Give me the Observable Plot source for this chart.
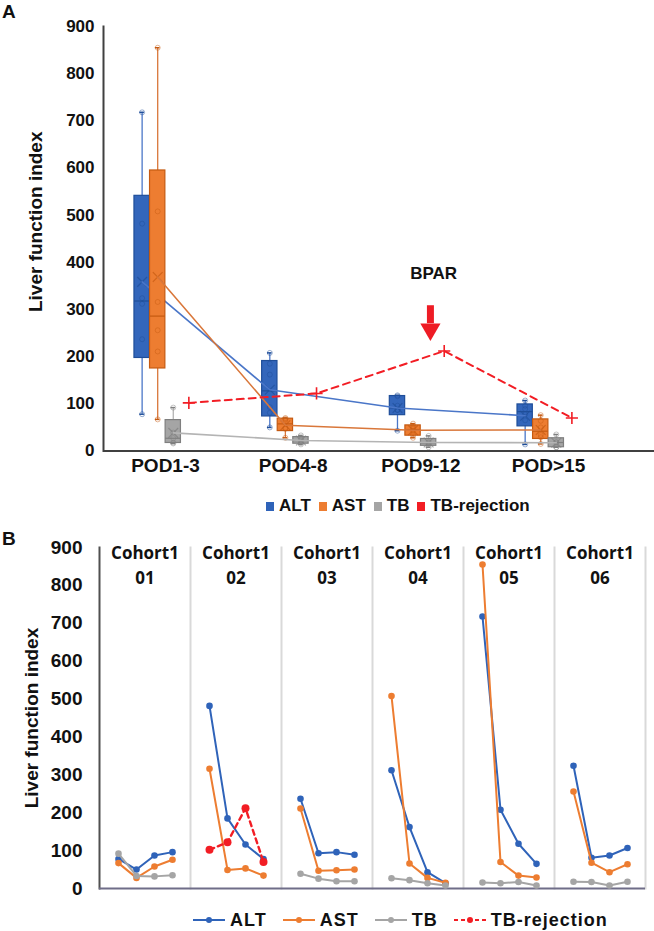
<!DOCTYPE html>
<html lang="en">
<head>
<meta charset="utf-8">
<title>Liver function index after transplantation</title>

<script src="https://cdn.jsdelivr.net/npm/d3@7"></script>
<script src="https://cdn.jsdelivr.net/npm/@observablehq/plot@0.6"></script>

<style>
  body {
    margin: 0;
    width: 654px;
    background: #fff;
    font-family: "Liberation Sans", Arial, sans-serif;
    color: #111;
  }
  .panel { position: relative; }
  .panel > svg { display: block; }
  .tag {
    position: absolute;
    left: 2px;
    font-weight: bold;
    font-size: 19px;
  }
  .legend {
    display: flex;
    align-items: center;
    font-weight: bold;
    box-sizing: border-box;
  }
  #legendA { height: 48px; padding-left: 266px; font-size: 17px; }
  #legendA .key i {
    display: inline-block;
    width: 8px;
    height: 9px;
    margin-right: 5px;
  }
  #legendA .key { display: flex; align-items: center; margin-right: 8px; }
  #legendB { height: 29px; padding: 7px 0 0 193px; font-size: 18px; letter-spacing: 1px; }
  #legendB .key { display: flex; align-items: center; margin-right: 16px; }
  #legendB .key svg { margin-right: 5px; }
</style>
</head>

<body>
  <div class="panel" id="panelA"><span class="tag" style="top:1px">A</span></div>
  <div class="legend" id="legendA"></div>
  <div class="panel" id="panelB"><span class="tag" style="top:-2px">B</span></div>
  <div class="legend" id="legendB"></div>

<script>

  // post-operative day groups (also the 4 time points of every cohort in panel B)
  const pods = ["POD1-3", "POD4-8", "POD9-12", "POD>15"];
  const cohorts = ["01", "02", "03", "04", "05", "06"];

  // one row per cohort, one value per POD
  const alt = [
    [78, 50, 87, 96],
    [482, 185, 116, 78],
    [237, 93, 96, 89],
    [312, 162, 43, 14],
    [718, 208, 118, 65],
    [324, 81, 87, 107]
  ];
  const ast = [
    [67, 28, 58, 76],
    [316, 49, 53, 34],
    [211, 47, 48, 50],
    [508, 66, 28, 15],
    [855, 70, 34, 29],
    [256, 68, 43, 64]
  ];
  // cohort 02 has its bilirubin under TB-rejection
  const tb = [
    [92, 33, 32, 35],
    null,
    [39, 26, 19, 19],
    [27, 22, 14, 8],
    [16, 14, 17, 8],
    [18, 17, 8, 18]
  ];
  const tbRejection = [102, 122, 212, 70];
  const rejectionCohort = "02";

  const series = ["ALT", "AST", "TB", "TB-rejection"];
  const valuesBy = {ALT: alt, AST: ast, TB: tb};

  const colors = {ALT: "#2f63b9", AST: "#ed7d31", TB: "#a5a5a5", "TB-rejection": "#f21d24"};
  const boxFill = {ALT: "#3366bb", AST: "#ed7d31", TB: "#a5a5a5"};
  const boxStroke = {ALT: "#1f4e99", AST: "#c55a11", TB: "#7f7f7f"};
  const lineA = {ALT: "#4a76c8", AST: "#d9773a", TB: "#b4b4b4"};

  // Excel style box statistics (exclusive quartiles)
  function quartileExc(sorted, p) {
    const pos = (sorted.length + 1) * p;
    const i = Math.floor(pos), f = pos - i;
    if (i < 1) return sorted[0];
    if (i >= sorted.length) return sorted[sorted.length - 1];
    return sorted[i - 1] + f * (sorted[i] - sorted[i - 1]);
  }

  const slot = si => (si - 1.5) * 0.122;   // side by side position inside a POD group
  const half = 0.06;

  const stats = [];
  const inner = [];
  ["ALT", "AST", "TB"].forEach((name, si) => {
    pods.forEach((pod, pi) => {
      const vals = valuesBy[name].filter(r => r).map(r => r[pi]).sort(d3.ascending);
      const q1 = quartileExc(vals, 0.25), q3 = quartileExc(vals, 0.75), iqr = q3 - q1;
      const lo = d3.min(vals.filter(v => v >= q1 - 1.5 * iqr));
      const hi = d3.max(vals.filter(v => v <= q3 + 1.5 * iqr));
      const xc = pi + slot(si);
      stats.push({name, pod, xc, q1, q3, lo, hi, median: d3.median(vals), mean: d3.mean(vals)});
      vals.forEach(v => inner.push({name, xc, value: v}));
    });
  });
  const rejA = tbRejection.map((v, pi) => ({xc: pi + slot(3), value: v}));

  // BPAR annotation, pointing at the rejection peak
  const bpar = {x: 2.075, top: 308, bottom: 270, tip: 258, textX: 2.1, textY: 376, label: "BPAR"};

  const marksA = [
    Plot.axisY({ticks: d3.range(0, 901, 100), tickSize: 0, tickPadding: 9, fontSize: 17, fontWeight: "bold", label: null}),
    Plot.text(["Liver function index"], {frameAnchor: "left", textAnchor: "middle", rotate: -90, dx: -68, dy: -17, fontSize: 19, fontWeight: "bold"}),
    Plot.axisX({ticks: d3.range(pods.length), tickFormat: i => pods[i], tickSize: 0, tickPadding: 7, fontSize: 19, fontWeight: "bold", label: null})
  ];
  ["ALT", "AST", "TB"].forEach(name => {
    const s = stats.filter(d => d.name === name);
    marksA.push(
      Plot.ruleX(s, {x: "xc", y1: "lo", y2: "hi", stroke: lineA[name], strokeWidth: 1.3}),
      Plot.ruleY(s, {y: "hi", x1: d => d.xc - 0.018, x2: d => d.xc + 0.018, stroke: boxStroke[name], strokeWidth: 1.5}),
      Plot.ruleY(s, {y: "lo", x1: d => d.xc - 0.018, x2: d => d.xc + 0.018, stroke: boxStroke[name], strokeWidth: 1.5}),
      Plot.rect(s, {x1: d => d.xc - half, x2: d => d.xc + half, y1: "q1", y2: "q3", fill: boxFill[name], stroke: boxStroke[name], strokeWidth: 1.2}),
      Plot.ruleY(s, {y: "median", x1: d => d.xc - half, x2: d => d.xc + half, stroke: boxStroke[name], strokeWidth: 1.2}),
      Plot.dot(inner.filter(d => d.name === name), {x: "xc", y: "value", r: 2.5, stroke: boxStroke[name], strokeOpacity: 0.45, strokeWidth: 1}),
      Plot.dot(s, {x: "xc", y: "mean", symbol: "times", r: 4.5, stroke: boxStroke[name], strokeOpacity: 0.7, strokeWidth: 1.2}),
      Plot.line(s, {x: "xc", y: "mean", stroke: lineA[name], strokeWidth: 1.6})
    );
  });
  marksA.push(
    Plot.line(rejA, {x: "xc", y: "value", stroke: colors["TB-rejection"], strokeWidth: 2, strokeDasharray: "7,5"}),
    Plot.dot(rejA, {x: "xc", y: "value", symbol: "plus", r: 4, stroke: colors["TB-rejection"], strokeWidth: 1.6}),
    Plot.ruleX([bpar], {x: "x", y1: "top", y2: "bottom", stroke: "#ee1c25", strokeWidth: 7}),
    Plot.dot([bpar], {x: "x", y: "tip", symbol: "triangle", rotate: 180, r: 7.5, fill: "#ee1c25"}),
    Plot.text([bpar], {x: "textX", y: "textY", text: "label", fontSize: 17, fontWeight: "bold"}),
    Plot.frame({anchor: "left", stroke: "#404040", strokeWidth: 2}),
    Plot.ruleY([0], {stroke: "#404040", strokeWidth: 2})
  );

  const plotA = Plot.plot({
    width: 654,
    height: 482,
    marginLeft: 103,
    marginRight: 0,
    marginTop: 26,
    marginBottom: 31.5,
    style: {fontFamily: "'Liberation Sans', Arial, sans-serif", color: "#111", background: "#fff"},
    x: {domain: [-0.4855, 3.83], axis: null},
    y: {domain: [0, 900], axis: null},
    marks: marksA
  });
  document.getElementById("panelA").appendChild(plotA);

  // panel B: one facet per cohort
  const rowsB = [];
  ["ALT", "AST", "TB"].forEach(name => {
    valuesBy[name].forEach((row, ci) => {
      if (row) row.forEach((v, pi) => rowsB.push({series: name, cohort: cohorts[ci], pod: pods[pi], value: v}));
    });
  });
  tbRejection.forEach((v, pi) => rowsB.push({series: "TB-rejection", cohort: rejectionCohort, pod: pods[pi], value: v}));

  const marksB = [
    Plot.frame({anchor: "right", stroke: "#d9d9d9", strokeWidth: 2}),
    Plot.axisY({ticks: d3.range(0, 901, 100), tickSize: 0, tickPadding: 17, fontSize: 19, fontWeight: "bold",
      label: "Liver function index", labelAnchor: "center", labelArrow: "none", labelOffset: 75}),
    Plot.frame({anchor: "left", facetAnchor: "left", stroke: "#505050", strokeWidth: 2}),
    Plot.ruleY([0], {stroke: "#6f6d88", strokeWidth: 2}),
    Plot.text(cohorts, {fx: d => d, text: d => "Cohort1\n" + d, frameAnchor: "top", lineAnchor: "top", dy: -6,
      lineHeight: 1.45, fontSize: 17, fontWeight: "bold", fontFamily: "'Open Sans', 'Noto Sans', sans-serif"})
  ];
  series.forEach(name => {
    const d = rowsB.filter(r => r.series === name);
    const dash = name === "TB-rejection";
    marksB.push(
      Plot.line(d, {fx: "cohort", x: "pod", y: "value", z: "cohort", stroke: colors[name], strokeWidth: dash ? 2.4 : 2, strokeDasharray: dash ? "5,4" : null}),
      Plot.dot(d, {fx: "cohort", x: "pod", y: "value", r: dash ? 4 : 3.3, fill: colors[name]})
    );
  });

  const plotB = Plot.plot({
    width: 654,
    height: 372,
    marginLeft: 99,
    marginRight: 9,
    marginTop: 17,
    marginBottom: 14,
    style: {fontFamily: "'Liberation Sans', Arial, sans-serif", color: "#111", background: "#fff"},
    fx: {domain: cohorts, padding: 0, axis: null, label: null},
    x: {domain: pods, type: "point", padding: 1, axis: null},
    y: {domain: [0, 900], axis: null},
    marks: marksB
  });
  document.getElementById("panelB").appendChild(plotB);

  // legends
  const legA = document.getElementById("legendA");
  series.forEach(name => {
    const k = document.createElement("span");
    k.className = "key";
    k.innerHTML = `<i style="background:${colors[name]}"></i>${name}`;
    legA.appendChild(k);
  });
  const legB = document.getElementById("legendB");
  series.forEach(name => {
    const dash = name === "TB-rejection" ? ` stroke-dasharray="4,3"` : "";
    const k = document.createElement("span");
    k.className = "key";
    k.innerHTML = `<svg width="32" height="10"><line x1="0" x2="32" y1="5" y2="5" stroke="${colors[name]}" stroke-width="2"${dash}></line><circle cx="16" cy="5" r="3" fill="${colors[name]}"></circle></svg>${name}`;
    legB.appendChild(k);
  });

</script>
</body>
</html>
